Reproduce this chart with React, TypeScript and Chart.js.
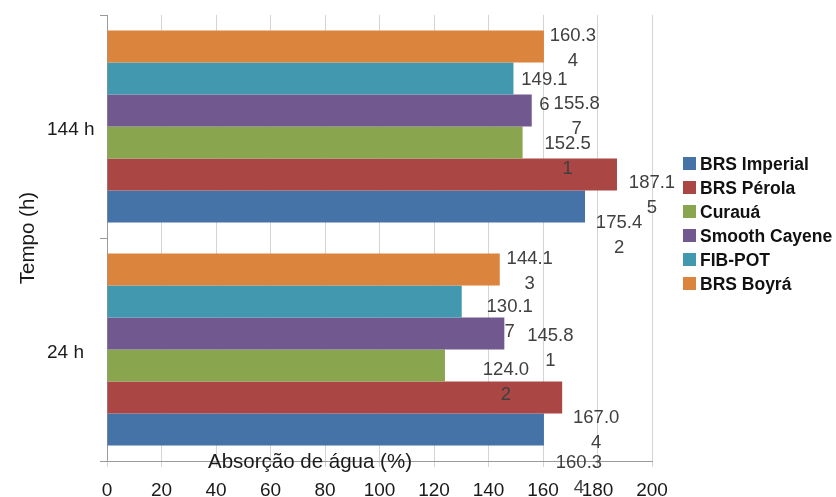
import React, { useEffect, useRef } from 'react';
import { Chart, registerables } from 'chart.js';

Chart.register(...registerables);

// ---- data ----
const categories = ['144 h', '24 h'];
const seriesNames = ['BRS Imperial', 'BRS Pérola', 'Curauá', 'Smooth Cayene', 'FIB-POT', 'BRS Boyrá'];
const brsImperial = [175.42, 160.34];
const brsPerola = [187.15, 167.04];
const curaua = [152.51, 124.02];
const smoothCayene = [155.87, 145.81];
const fibPot = [149.16, 130.17];
const brsBoyra = [160.34, 144.13];
const xMin = 0;
const xMax = 200;
const xStep = 20;
const yTitle = 'Tempo (h)';
const xTitle = 'Absorção de água (%)';

// ---- styles ----
const FONT = '"Liberation Sans", Arial, sans-serif';
const colors = ['#4572A7', '#AA4643', '#89A54E', '#71588F', '#4198AF', '#DB843D'];
// label offsets (px) relative to bar end / bar centre, per series, per category
const labelOffsets: number[][][] = [
  [[34, 29], [35, 46]],
  [[35, 21], [34, 33]],
  [[45, 14], [61, 17]],
  [[45, 6], [46, 15]],
  [[31, 14], [48, 18]],
  [[29, 2], [30, 2]],
];

const seriesValues = [brsImperial, brsPerola, curaua, smoothCayene, fibPot, brsBoyra];

const labelPlugin = {
  id: 'valueLabels',
  afterDatasetsDraw(chart: any) {
    const ctx = chart.ctx;
    ctx.save();
    ctx.font = '18.5px ' + FONT;
    ctx.fillStyle = '#404040';
    ctx.textAlign = 'center';
    ctx.textBaseline = 'middle';
    chart.data.datasets.forEach((ds: any, di: number) => {
      const meta = chart.getDatasetMeta(di);
      const si = ds.seriesIndex;
      meta.data.forEach((bar: any, ci: number) => {
        const v = ds.data[ci] as number;
        const s = v.toFixed(2);
        const lines = [s.slice(0, 5), s.slice(5)];
        const [dx, dy] = labelOffsets[si][ci];
        const cx = bar.x + dx;
        const cy = bar.y + dy;
        ctx.fillText(lines[0], cx, cy - 12.5);
        ctx.fillText(lines[1], cx, cy + 12.5);
      });
    });
    ctx.restore();
  },
};

const yLabelPlugin = {
  id: 'yLabels',
  afterDraw(chart: any) {
    const ctx = chart.ctx;
    const scale = chart.scales.y;
    ctx.save();
    ctx.font = '19px ' + FONT;
    ctx.fillStyle = '#1a1a1a';
    ctx.textAlign = 'left';
    ctx.textBaseline = 'middle';
    scale.getLabels().forEach((lab: string, i: number) => {
      ctx.fillText(lab, scale.left + 47, scale.getPixelForValue(i) + 3);
    });
    ctx.restore();
  },
};

const legendPlugin = {
  id: 'sideLegend',
  afterDraw(chart: any) {
    const ctx = chart.ctx;
    const x0 = chart.chartArea.right + 31;
    const y0 = 164;
    ctx.save();
    ctx.font = 'bold 17.5px ' + FONT;
    ctx.textBaseline = 'middle';
    ctx.textAlign = 'left';
    seriesNames.forEach((name, i) => {
      const y = y0 + i * 24;
      ctx.fillStyle = colors[i];
      ctx.fillRect(x0, y - 7, 13, 13);
      ctx.fillStyle = '#111111';
      ctx.fillText(name, x0 + 17, y + 1);
    });
    ctx.restore();
  },
};

const xTitlePlugin = {
  id: 'xTitle',
  afterDraw(chart: any) {
    const ctx = chart.ctx;
    ctx.save();
    ctx.font = '20.5px ' + FONT;
    ctx.fillStyle = '#1a1a1a';
    ctx.textBaseline = 'middle';
    ctx.textAlign = 'left';
    ctx.fillText(xTitle, chart.chartArea.left + 101, chart.chartArea.bottom + 1);
    ctx.restore();
  },
};

export default function App() {
  const ref = useRef<HTMLCanvasElement | null>(null);
  useEffect(() => {
    if (!ref.current) return;
    const order = [5, 4, 3, 2, 1, 0];
    const chart = new Chart(ref.current, {
      type: 'bar',
      data: {
        labels: categories,
        datasets: order.map((i) => ({
          label: seriesNames[i],
          data: seriesValues[i],
          backgroundColor: colors[i],
          borderWidth: 0,
          categoryPercentage: 0.86,
          barPercentage: 1,
          seriesIndex: i,
        })) as any,
      },
      options: {
        indexAxis: 'y',
        animation: false,
        responsive: false,
        devicePixelRatio: 1,
        layout: { padding: { left: 0, top: 15, right: 184, bottom: 0 } },
        plugins: {
          legend: { display: false },
          tooltip: { enabled: false },
        },
        scales: {
          x: {
            min: xMin,
            max: xMax,
            ticks: {
              stepSize: xStep,
              color: '#1a1a1a',
              font: { family: FONT, size: 19 },
              padding: 12,
            },
            grid: {
              color: '#d4d4d4',
              lineWidth: 1,
              tickLength: 6,
              drawOnChartArea: true,
            },
            border: { color: '#9a9a9a', width: 1 },
            afterFit: (scale: any) => {
              scale.height = 36;
            },
          },
          y: {
            ticks: {
              display: false,
            },
            grid: {
              drawOnChartArea: false,
              drawTicks: true,
              tickLength: 7,
              color: '#9a9a9a',
              offset: true,
            },
            border: { color: '#9a9a9a', width: 1 },
            title: {
              display: true,
              text: yTitle,
              color: '#1a1a1a',
              font: { family: FONT, size: 20.5 },
              padding: { top: 16, bottom: 0 },
            },
            afterFit: (scale: any) => {
              scale.width = 107;
            },
          },
        },
      } as any,
      plugins: [labelPlugin, yLabelPlugin, legendPlugin, xTitlePlugin],
    });
    return () => chart.destroy();
  }, []);
  return (
    <div style={{ position: 'absolute', left: 0, top: 0, width: 836, height: 497, background: '#ffffff' }}>
      <canvas ref={ref} width={836} height={497} />
    </div>
  );
}
